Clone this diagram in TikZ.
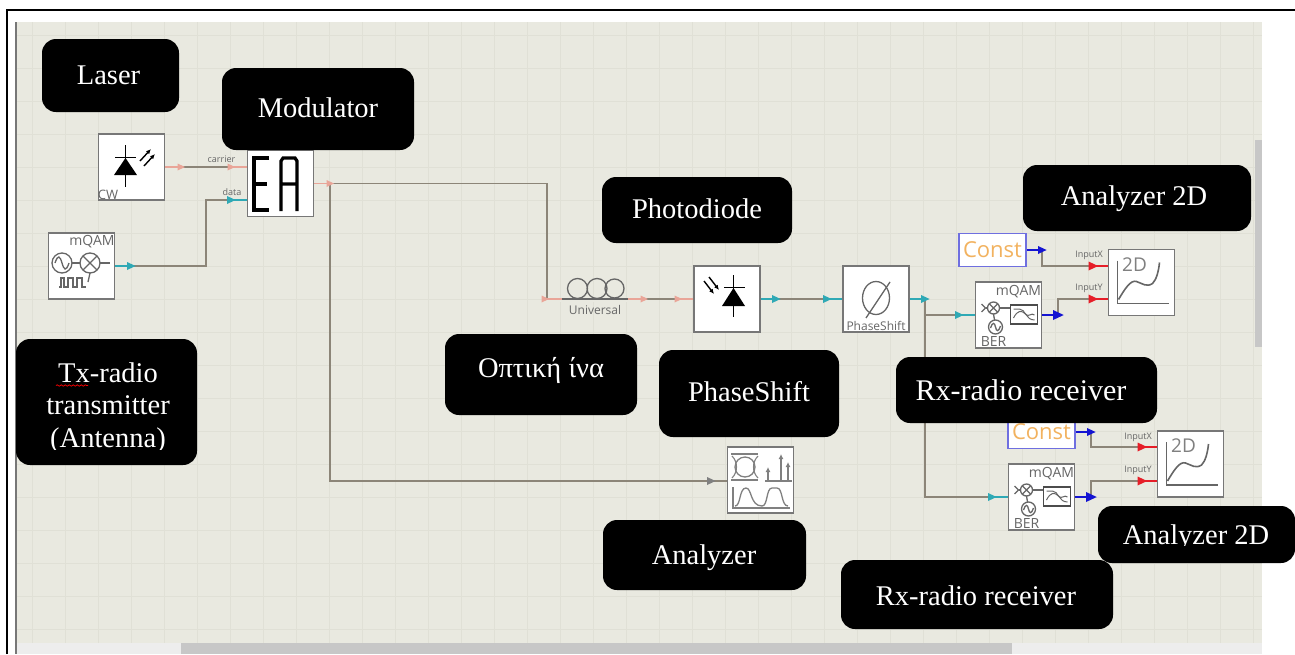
\documentclass[tikz,border=0pt]{standalone}
\usepackage{fontspec}
\setmainfont{Liberation Serif}
\newfontfamily\uifont{Open Sans}
\usetikzlibrary{decorations.pathmorphing,arrows.meta}
\definecolor{canvas}{HTML}{E9E9E0}
\definecolor{gridc}{HTML}{E0E0D6}
\definecolor{wire}{HTML}{8C8578}
\definecolor{frameg}{HTML}{777777}
\definecolor{icong}{HTML}{666666}
\definecolor{salmon}{HTML}{E9A598}
\definecolor{tealp}{HTML}{2FA9B5}
\definecolor{bluep}{HTML}{1414D2}
\definecolor{redp}{HTML}{E61E28}
\definecolor{constor}{HTML}{F2B25F}
\definecolor{constbl}{HTML}{6F6FE0}
\definecolor{txtg}{HTML}{666666}
\tikzset{
  x=1pt,y=-1pt,
  blockbox/.style={draw=frameg,line width=1.7pt,fill=white,minimum width=66pt,minimum height=66pt,inner sep=0pt},
  constbox/.style={draw=constbl,line width=1.8pt,fill=white,minimum width=67pt,minimum height=33pt,inner sep=0pt,text=constor,font=\uifont\fontsize{22}{26}\selectfont},
  conn/.style={draw=wire,line width=1.4pt},
  stub/.style={line width=1.6pt},
  ic/.style={draw=icong,line width=1.3pt},
  icb/.style={draw=black,line width=1.4pt},
  lab/.style={fill=black,draw=none,rounded corners=14pt,inner sep=0pt},
  labt/.style={text=white,inner sep=0pt,anchor=base,font=\fontsize{28.5}{32.5}\selectfont,align=center},
  small/.style={text=txtg,inner sep=0pt,font=\uifont\fontsize{9}{11}\selectfont},
  mid/.style={text=txtg,inner sep=0pt,font=\uifont\fontsize{14}{16}\selectfont},
  tiny/.style={text=txtg,inner sep=0pt,font=\uifont\fontsize{12}{14}\selectfont},
}
% arrow marker: x, y, colour, half size
\newcommand{\tri}[4]{\fill[#3] (#1-#4,#2-#4) -- (#1+#4*1.15,#2) -- (#1-#4,#2+#4) -- cycle;}
% black label: name, x1,y1,x2,y2, text, centre x, baseline y, text clip bottom
\newcommand{\blab}[9]{%
  \node[lab,minimum width=#4pt-#2pt,minimum height=#5pt-#3pt] (#1) at ({(#2+#4)/2},{(#3+#5)/2}) {};
  \begin{scope}\clip (#2,#3) rectangle (#4,#9);
  \node[labt] (#1t) at (#7,#8) {#6};
  \end{scope}}
% 2D analyser icon with top left corner x,y
\newcommand{\twod}[3]{%
  \begin{scope}[shift={(#1,#2)}]
  \draw[draw=icong,line width=1.6pt] (9,11) -- (9,54) -- (60,54);
  \draw[draw=icong,line width=1.6pt] (10,50) .. controls (16,40) and (22,30) .. (28,32) .. controls (34,34) and (38,38) .. (44,34) .. controls (48,30) and (50,22) .. (51,13);
  \node[inner sep=0pt,font=\uifont\fontsize{19}{22}\selectfont,text=gray] (#3) at (26,15) {2D};
  \end{scope}}
% receiver icon with top left corner x,y
\newcommand{\rxic}[3]{%
  \begin{scope}[shift={(#1,#2)}]
  \node[mid] (#3a) at (43,9.5) {mQAM};
  \node[mid] (#3b) at (18,59) {BER};
  \draw[ic] (18,26) circle (6);
  \draw[ic] (13.8,21.8) -- (22.2,30.2) (13.8,30.2) -- (22.2,21.8);
  \draw[ic] (6,22) -- (10,26) -- (6,30);
  \draw[ic] (10,26) -- (12,26);
  \draw[ic] (24,26) -- (35,26);
  \draw[ic] (18,32) -- (19,38);
  \draw[ic] (20,45) circle (7);
  \draw[ic] (15,46) .. controls (17,40) and (19,40) .. (20,45) .. controls (21,50) and (23,50) .. (25,44);
  \draw[icb,draw=black!70,fill=white] (35,23) rectangle (62,42);
  \draw[ic,line width=1pt] (38,27) -- (44,27) .. controls (50,27) and (50,38) .. (59,38);
  \draw[ic,line width=1pt] (38,36) .. controls (42,28) and (46,28) .. (50,32) .. controls (53,36) and (56,30) .. (59,33);
  \end{scope}}
\begin{document}
\begin{tikzpicture}
\useasboundingbox (0,0) rectangle (1295,654);
\fill[white] (0,0) rectangle (1295,654);
% canvas
\fill[canvas] (17,22) rectangle (1262,643);
\foreach \gx in {0,...,37} {\draw[gridc,line width=1pt] ({32.5+33*\gx},22) -- ({32.5+33*\gx},643);}
\foreach \gy in {0,...,18} {\draw[gridc,line width=1pt] (17,{35+33*\gy}) -- (1262,{35+33*\gy});}
% window chrome
\draw[frameg,line width=1.8pt] (16,22) -- (16,654);
\fill[white!93!black] (17,643) rectangle (1262,654);
\fill[black!22] (181,643) rectangle (1012,654);
\fill[black!22] (1255,140) rectangle (1262,347);
\draw[black,line width=2pt] (7,654) -- (7,10) -- (1295,10);

% blocks
\node[blockbox] (cw) at (131.5,167) {};
\node[blockbox] (qam) at (81.5,266) {};
\node[blockbox] (ea) at (280.5,183.5) {};
\coordinate (fibL) at (562,299);
\coordinate (fibR) at (628,299);
\node[blockbox] (pd) at (727,299) {};
\node[blockbox] (ps) at (876,299) {};
\node[blockbox] (rxa) at (1008.5,315) {};
\node[blockbox] (rxb) at (1041.5,497) {};
\node[blockbox] (plota) at (1141.5,282.5) {};
\node[blockbox] (plotb) at (1190.5,464) {};
\node[blockbox] (spec) at (760.5,480) {};
\node[constbox] (consta) at (992.5,250) {\raisebox{-2pt}{Const}};
\node[constbox] (constb) at (1041.5,432) {\raisebox{-2pt}{Const}};

% connectors
\coordinate (eac) at (ea.west |- cw.east);
\coordinate (ead) at (247,200);
\coordinate (j1) at (330,183.5);
\coordinate (j2) at (547,183.5);
\coordinate (j3) at (925,299);
\draw[conn] (cw.east) -- (eac);
\draw[conn] (qam.east) -- (206,266) -- (206,200) -- (ead);
\draw[conn] (ea.east) -- (j2) -- (547,299) -- (fibL);
\draw[conn] (j1) -- (330,481) -- (spec.west |- 0,481);
\draw[conn] (fibR) -- (pd.west);
\draw[conn] (pd.east) -- (ps.west);
\draw[conn] (ps.east) -- (j3) -- (925,315) -- (rxa.west);
\draw[conn] (j3) -- (925,497) -- (rxb.west);
\draw[conn] (consta.east) -- (1042,250) -- (1042,266) -- (plota.west |- 0,266);
\draw[conn] (rxa.east) -- (1058,315) -- (1058,299) -- (plota.west |- 0,299);
\draw[conn] (constb.east) -- (1091,432) -- (1091,447) -- (plotb.west |- 0,447);
\draw[conn] (rxb.east) -- (1091,497) -- (1091,481) -- (plotb.west |- 0,481);

% coloured port stubs and markers
\draw[salmon,stub] (cw.east) -- ++(14,0) (eac) -- ++(-14,0) (ea.east) -- ++(14,0);
\tri{181}{167}{salmon}{3.5}\tri{231}{167}{salmon}{3.5}\tri{330}{183.5}{salmon}{3.5}
\draw[tealp,stub] (qam.east) -- ++(16,0) (ead) -- ++(-14,0);
\tri{131}{266}{tealp}{4}\tri{231}{200}{tealp}{4}
\draw[salmon,stub] (fibL) -- ++(-15,0) (fibR) -- ++(16,0) (pd.west) -- ++(-15,0);
\tri{545}{299}{salmon}{3.5}\tri{644}{299}{salmon}{3.5}\tri{678}{299}{salmon}{3.5}
\draw[tealp,stub] (pd.east) -- ++(16,0) (ps.west) -- ++(-16,0) (ps.east) -- ++(16,0) (rxa.west) -- ++(-16,0) (rxb.west) -- ++(-16,0);
\tri{776}{299}{tealp}{4}\tri{827}{299}{tealp}{4}\tri{925}{299}{tealp}{4}\tri{959}{315}{tealp}{4}\tri{992}{497}{tealp}{4}
\draw[bluep,stub] (consta.east) -- ++(16,0) (rxa.east) -- ++(16,0) (constb.east) -- ++(16,0) (rxb.east) -- ++(16,0);
\tri{1042}{250}{bluep}{4}\tri{1058}{315}{bluep}{5}\tri{1091}{432}{bluep}{4}\tri{1091}{497}{bluep}{5}
\draw[redp,stub] (plota.west |- 0,266) -- ++(-16,0) (plota.west |- 0,299) -- ++(-16,0) (plotb.west |- 0,447) -- ++(-16,0) (plotb.west |- 0,481) -- ++(-16,0);
\tri{1093}{266}{redp}{4.5}\tri{1093}{299}{redp}{4.5}\tri{1142}{447}{redp}{4.5}\tri{1142}{481}{redp}{4.5}
\tri{711}{481}{gray}{4}

% port labels
\node[small] (lcar) at (221.5,159) {carrier};
\node[small] (ldat) at (232,192) {data};
\node[small] (lxa) at (1089,255) {InputX};
\node[small] (lya) at (1089,288) {InputY};
\node[small] (lxb) at (1138,437) {InputX};
\node[small] (lyb) at (1138,470) {InputY};

% laser icon
\draw[icb] (125.5,145) -- (125.5,187) (115,157.5) -- (136,157.5);
\fill[black] (125.5,158) -- (137,175) -- (114,175) -- cycle;
\draw[icb,-{Latex[length=5pt,width=4.5pt]}] (140,161) -- (151,149);
\draw[icb,-{Latex[length=5pt,width=4.5pt]}] (144,166) -- (155,154);
\node[tiny,text=icong,font=\uifont\fontsize{13}{15}\selectfont] (lcw) at (108,195) {CW};

% mQAM source icon
\node[mid] (lqam) at (92,242) {mQAM};
\draw[ic] (62,263) circle (10);
\draw[ic] (55,263) .. controls (58,254) and (60,256) .. (62,263) .. controls (64,270) and (66,272) .. (69,263);
\draw[ic] (72,263) -- (80,263);
\draw[ic] (90,263) circle (10);
\draw[ic] (83,256) -- (97,270) (83,270) -- (97,256);
\draw[ic] (100,263) -- (110,263);
\draw[ic] (90,273) -- (88,282);
\draw[ic,line width=1.2pt] (59,287) -- (61,287) -- (61,278) -- (64,278) -- (64,287) -- (68,287) -- (68,278) -- (73,278) -- (73,287) -- (77,287) -- (77,278) -- (82,278) -- (82,287) -- (86,287);

% EA icon
\draw[black,line width=3.2pt] (269,158) -- (254,158) -- (254,210) -- (269,210) (254,184) -- (267,184);
\draw[black,line width=3.2pt] (281,211) -- (281,161) -- (283,158) -- (295,158) -- (297,161) -- (297,211) (281,184) -- (297,184);

% fibre icon
\draw[ic] (577.5,288.5) circle (10) (597,288.5) circle (10) (614.5,288.5) circle (9.5);
\fill[canvas] (560,299.7) rectangle (630,302);
\draw[ic] (fibL) -- (fibR);
\node[tiny] (lfib) at (595,310) {Universal};

% photodiode icon
\draw[icb] (733.5,275) -- (733.5,317) (724,287.5) -- (745,287.5);
\fill[black] (733.5,288) -- (745,306) -- (722,306) -- cycle;
\draw[icb,-{Latex[length=5pt,width=4.5pt]}] (704,281) -- (714,294);
\draw[icb,-{Latex[length=5pt,width=4.5pt]}] (709,277) -- (719,290);

% phase shift icon
\draw[ic,draw=icong] (876,298) ellipse (13.5 and 16.5);
\draw[ic] (866,318) -- (890,282);
\node[tiny] (lps) at (876,326) {PhaseShift};

% receivers and plots
\rxic{975.5}{282}{ra}
\rxic{1008.5}{464}{rb}
\twod{1108.5}{249.5}{pa}
\twod{1157.5}{431}{pb}

% spectrum analyser icon
\draw[gray,line width=1.3pt] (731,454) -- (758,454) (731,480) -- (758,480);
\draw[gray,line width=1.3pt] (745,467) circle (10);
\draw[gray,line width=1.1pt] (732,456) .. controls (738,462) and (738,472) .. (732,478) (758,456) .. controls (752,462) and (752,472) .. (758,478);
\draw[gray,line width=1.3pt] (765,481) -- (792,481);
\draw[gray,line width=1.3pt,-{Latex[length=5pt,width=5pt]}] (768,481) -- (768,467);
\draw[gray,line width=1.3pt,-{Latex[length=5pt,width=5pt]}] (781,481) -- (781,454);
\draw[gray,line width=1.3pt,-{Latex[length=5pt,width=5pt]}] (788,481) -- (788,462);
\draw[gray,line width=1.3pt] (733,487) -- (733,508) -- (790,508);
\draw[gray,line width=1.3pt] (735,506) .. controls (741,506) and (739,488) .. (746,488) .. controls (752,488) and (750,506) .. (762,506) .. controls (768,506) and (766,488) .. (772,488) -- (777,488) .. controls (783,488) and (781,506) .. (788,506);

% black labels
\blab{llaser}{42}{39}{179}{112}{Laser}{108.5}{84}{100}
\blab{lmod}{222}{68}{414}{150}{Modulator}{318}{117}{140}
\blab{lphoto}{602}{177}{792}{243}{Photodiode}{697}{218}{235}
\blab{lana}{1023}{165}{1251}{231}{Analyzer 2D}{1134}{205}{225}
\blab{ltx}{16}{339}{197}{465}{Tx-radio\\transmitter\\(Antenna)}{108}{447}{449}
\draw[red,line width=.7pt,decorate,decoration={snake,amplitude=.7pt,segment length=4pt}] (56,385.5) -- (88,385.5);
\blab{lfibre}{445}{334}{637}{415}{Οπτική ίνα}{541}{377}{400}
\blab{lphase}{659}{350}{839}{437}{PhaseShift}{749}{401}{425}
\blab{lrxa}{896}{357}{1157}{423}{\fontsize{30}{34}\selectfont Rx-radio receiver}{1021}{400}{415}
\blab{lanalyz}{603}{520}{806}{590}{Analyzer}{704}{564}{580}
\blab{lanb}{1098}{506}{1295}{563}{Analyzer 2D}{1196}{544}{545}
\blab{lrxb}{841}{560}{1113}{629}{Rx-radio receiver}{976}{605}{620}
\end{tikzpicture}
\end{document}
